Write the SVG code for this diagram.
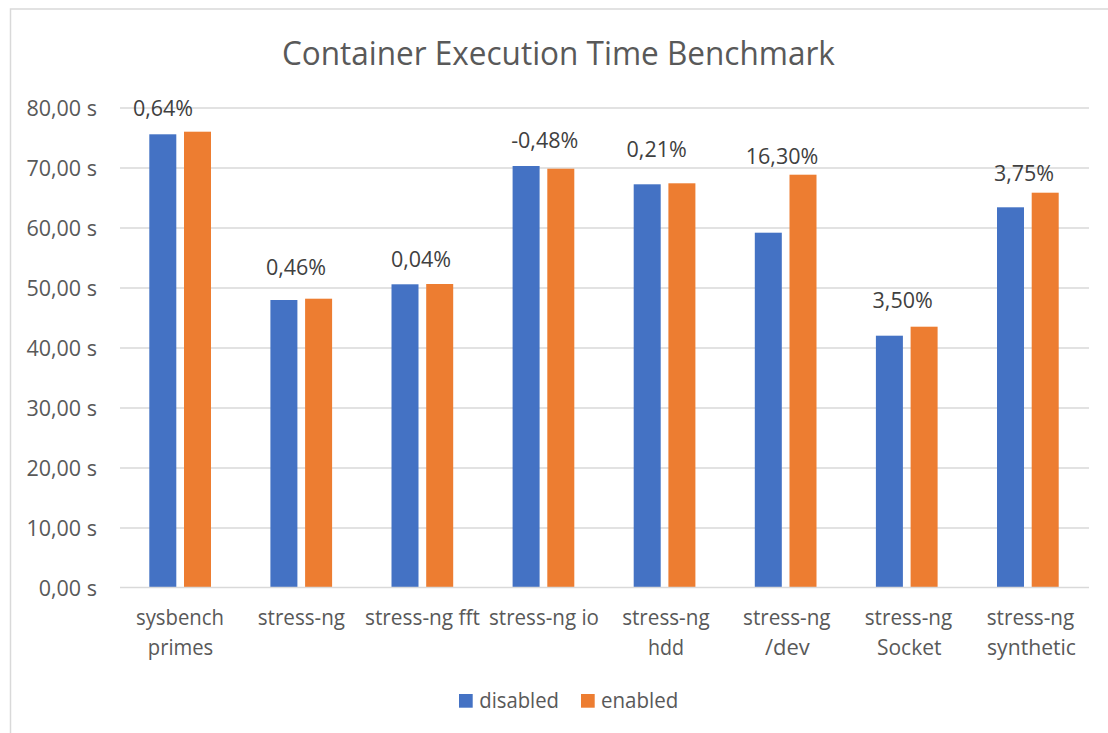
<svg xmlns="http://www.w3.org/2000/svg" width="1108" height="733" viewBox="0 0 1108 733">
  <style>
    text { font-family: "Open Sans", "Noto Sans", "Liberation Sans", sans-serif; fill: #595959; }
    .title { font-size: 33px; text-anchor: middle; }
    .axis { font-size: 21.5px; text-anchor: end; }
    .cat { font-size: 21.5px; text-anchor: middle; }
    .pct { font-size: 21.5px; text-anchor: middle; fill: #404040; }
    .leg { font-size: 21.5px; }
    .grid { stroke: #D9D9D9; stroke-width: 1.3; }
    .dis { fill: #4472C4; }
    .ena { fill: #ED7D31; }
  </style>

  <!-- chart area -->
  <rect x="0" y="0" width="1108" height="733" fill="#FFFFFF"/>
  <rect x="10.5" y="9" width="1110" height="740" fill="none" stroke="#D9D9D9" stroke-width="1.5"/>

  <text id="title" class="title" x="558.4" y="65" textLength="553" lengthAdjust="spacingAndGlyphs">Container Execution Time Benchmark</text>

  <!-- value axis gridlines -->
  <g id="gridlines">
    <line class="grid" x1="120" y1="108" x2="1089" y2="108"/>
    <line class="grid" x1="120" y1="168" x2="1089" y2="168"/>
    <line class="grid" x1="120" y1="228" x2="1089" y2="228"/>
    <line class="grid" x1="120" y1="288" x2="1089" y2="288"/>
    <line class="grid" x1="120" y1="348" x2="1089" y2="348"/>
    <line class="grid" x1="120" y1="408" x2="1089" y2="408"/>
    <line class="grid" x1="120" y1="468" x2="1089" y2="468"/>
    <line class="grid" x1="120" y1="528" x2="1089" y2="528"/>
  </g>

  <g id="value-axis">
    <text class="axis" x="97" y="116">80,00 s</text>
    <text class="axis" x="97" y="176">70,00 s</text>
    <text class="axis" x="97" y="236">60,00 s</text>
    <text class="axis" x="97" y="296">50,00 s</text>
    <text class="axis" x="97" y="356">40,00 s</text>
    <text class="axis" x="97" y="416">30,00 s</text>
    <text class="axis" x="97" y="476">20,00 s</text>
    <text class="axis" x="97" y="536">10,00 s</text>
    <text class="axis" x="97" y="596">0,00 s</text>
  </g>

  <!-- series: disabled -->
  <g id="series-disabled">
    <rect class="dis" x="149.3" y="134.3" width="27" height="453.2"/>
    <rect class="dis" x="270.4" y="300" width="27" height="287.5"/>
    <rect class="dis" x="391.5" y="284.3" width="27" height="303.2"/>
    <rect class="dis" x="512.6" y="166" width="27" height="421.5"/>
    <rect class="dis" x="633.7" y="184.3" width="27" height="403.2"/>
    <rect class="dis" x="754.8" y="232.7" width="27" height="354.8"/>
    <rect class="dis" x="875.9" y="335.7" width="27" height="251.8"/>
    <rect class="dis" x="997" y="207.3" width="27" height="380.2"/>
  </g>

  <!-- series: enabled -->
  <g id="series-enabled">
    <rect class="ena" x="184" y="131.7" width="27" height="455.8"/>
    <rect class="ena" x="305.1" y="298.7" width="27" height="288.8"/>
    <rect class="ena" x="426.2" y="284" width="27" height="303.5"/>
    <rect class="ena" x="547.3" y="168.7" width="27" height="418.8"/>
    <rect class="ena" x="668.4" y="183.3" width="27" height="404.2"/>
    <rect class="ena" x="789.5" y="174.7" width="27" height="412.8"/>
    <rect class="ena" x="910.6" y="326.7" width="27" height="260.8"/>
    <rect class="ena" x="1031.7" y="192.7" width="27" height="394.8"/>
  </g>

  <line id="category-axis-line" class="grid" x1="120" y1="587.5" x2="1089" y2="587.5"/>

  <!-- relative change labels -->
  <g id="change-labels">
    <text class="pct" x="163" y="116">0,64%</text>
    <text class="pct" x="296" y="275">0,46%</text>
    <text class="pct" x="421" y="266.5">0,04%</text>
    <text class="pct" x="544.7" y="148">-0,48%</text>
    <text class="pct" x="656.7" y="156.5">0,21%</text>
    <text class="pct" x="782" y="164">16,30%</text>
    <text class="pct" x="902.7" y="307.5">3,50%</text>
    <text class="pct" x="1024" y="180.5">3,75%</text>
  </g>

  <!-- category axis -->
  <g id="category-axis">
    <text class="cat" x="180" y="625" textLength="88" lengthAdjust="spacingAndGlyphs">sysbench</text>
    <text class="cat" x="180.5" y="655" textLength="65.5" lengthAdjust="spacingAndGlyphs">primes</text>
    <text class="cat" x="301.4" y="625" textLength="87.3" lengthAdjust="spacingAndGlyphs">stress-ng</text>
    <text class="cat" x="422.5" y="625" textLength="115" lengthAdjust="spacingAndGlyphs">stress-ng fft</text>
    <text class="cat" x="544" y="625" textLength="110" lengthAdjust="spacingAndGlyphs">stress-ng io</text>
    <text class="cat" x="665.9" y="625" textLength="87.5" lengthAdjust="spacingAndGlyphs">stress-ng</text>
    <text class="cat" x="666" y="655" textLength="36" lengthAdjust="spacingAndGlyphs">hdd</text>
    <text class="cat" x="786.8" y="625" textLength="87.5" lengthAdjust="spacingAndGlyphs">stress-ng</text>
    <text class="cat" x="787.4" y="655" textLength="44.8" lengthAdjust="spacingAndGlyphs">/dev</text>
    <text class="cat" x="908.5" y="625" textLength="87.5" lengthAdjust="spacingAndGlyphs">stress-ng</text>
    <text class="cat" x="909.2" y="655" textLength="64.5" lengthAdjust="spacingAndGlyphs">Socket</text>
    <text class="cat" x="1030.5" y="625" textLength="87.5" lengthAdjust="spacingAndGlyphs">stress-ng</text>
    <text class="cat" x="1031.5" y="655" textLength="89" lengthAdjust="spacingAndGlyphs">synthetic</text>
  </g>

  <!-- legend -->
  <g id="legend">
    <rect class="dis" x="459" y="694" width="13.7" height="13.7"/>
    <text class="leg" x="479.3" y="707.5" textLength="79.7" lengthAdjust="spacingAndGlyphs">disabled</text>
    <rect class="ena" x="581" y="694" width="13.7" height="13.7"/>
    <text class="leg" x="601" y="707.5" textLength="77.3" lengthAdjust="spacingAndGlyphs">enabled</text>
  </g>
</svg>
